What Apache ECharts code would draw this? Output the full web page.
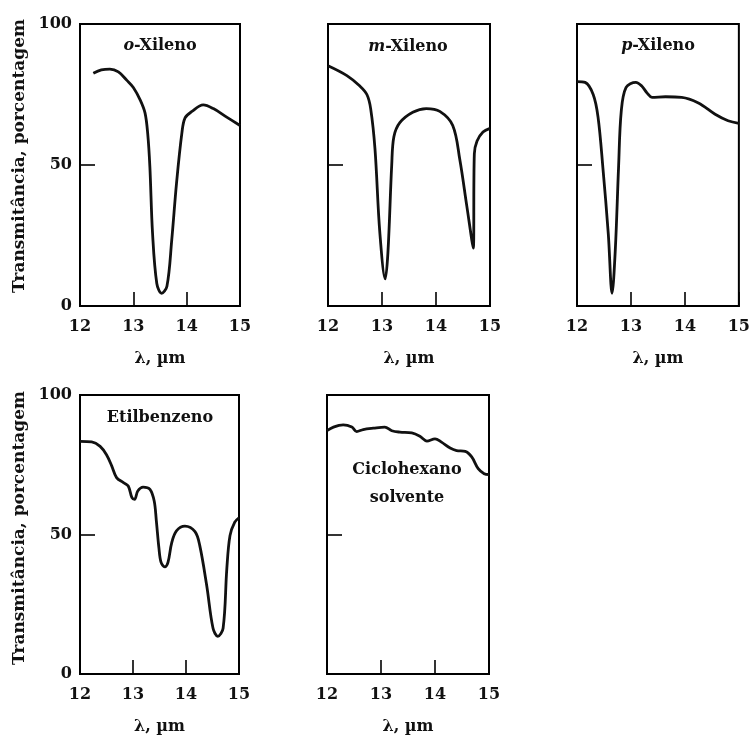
<!DOCTYPE html>
<html>
<head>
<meta charset="utf-8">
<title>Espectros IV – xilenos, etilbenzeno e ciclohexano</title>
<script src="https://cdn.jsdelivr.net/npm/echarts@6/dist/echarts.min.js"></script>
<style>
  html, body { margin: 0; padding: 0; background: #fff; }
  #chart { width: 753px; height: 736px; }
</style>
</head>
<body>
<div id="chart"></div>
<script>
// Wavelength (µm) and transmittance (%) samples for each spectrum
const oXyleneWl = [12.25, 12.4, 12.56, 12.72, 12.88, 13.0, 13.13, 13.22, 13.27, 13.31, 13.36, 13.44, 13.53, 13.63, 13.72, 13.81, 13.91, 13.97, 14.1, 14.31, 14.5, 14.75, 15.0];
const oXyleneT  = [82.5, 83.7, 84, 83, 80, 77.5, 73, 68.4, 61, 49.4, 25.9, 8, 4.5, 7, 23.4, 43.6, 61.3, 66.7, 69, 71.3, 70, 67, 64];

const mXyleneWl = [12.0, 12.35, 12.59, 12.72, 12.79, 12.87, 12.96, 13.06, 13.11, 13.18, 13.22, 13.33, 13.57, 13.82, 14.07, 14.31, 14.44, 14.57, 14.69, 14.71, 14.76, 14.87, 15.0];
const mXyleneT  = [85.2, 81.7, 78, 75, 70, 55.7, 26, 9.6, 19, 50, 60, 65, 68.7, 70, 69, 64, 52, 35.5, 20.5, 54, 58.5, 61.7, 63];

const pXyleneWl = [12.0, 12.15, 12.3, 12.39, 12.48, 12.58, 12.65, 12.71, 12.77, 12.82, 12.91, 13.09, 13.2, 13.3, 13.39, 13.64, 13.94, 14.25, 14.56, 14.8, 15.0];
const pXyleneT  = [79.6, 79.3, 75, 67, 49, 25.6, 4.5, 20, 49, 69, 77.5, 79.3, 78, 75.5, 74, 74.2, 74, 72, 68, 65.7, 64.8];

const ethylbenzWl = [12.0, 12.22, 12.38, 12.5, 12.6, 12.69, 12.82, 12.91, 12.98, 13.03, 13.09, 13.19, 13.32, 13.4, 13.44, 13.49, 13.53, 13.6, 13.66, 13.73, 13.82, 13.98, 14.17, 14.26, 14.39, 14.51, 14.6, 14.7, 14.77, 14.83, 14.92, 15.0];
const ethylbenzT  = [83.4, 83.2, 81.6, 78.6, 74.5, 70.4, 68.6, 67.4, 63.2, 62.6, 65.6, 67, 66.2, 62, 55, 45, 40, 38.4, 40, 47, 51.3, 53, 51, 46, 31.8, 16.4, 13.5, 16.4, 37.7, 49.6, 54.4, 56];

const cyclohexWl = [12.0, 12.12, 12.3, 12.46, 12.55, 12.67, 12.86, 13.07, 13.2, 13.35, 13.57, 13.72, 13.85, 14.0, 14.12, 14.28, 14.4, 14.56, 14.68, 14.8, 14.91, 15.0];
const cyclohexT  = [87.2, 88.5, 89.3, 88.5, 86.9, 87.6, 88.1, 88.5, 87.2, 86.7, 86.4, 85.2, 83.5, 84.3, 83.1, 81, 80.1, 79.8, 77.8, 73.6, 71.8, 71.5];

// Axis ranges and tick labels
const wlMin = 12, wlMax = 15, wlStep = 1;
const tMin = 0, tMax = 100, tStep = 50;
const xAxisTitle = 'λ, µm';
const yAxisTitle = 'Transmitância, porcentagem';

const FONT = 'DejaVu Serif';
const INK = '#111';
const FS = 16;

// Panel layout: plot box and caption placement
const panels = [
  { wl: oXyleneWl,   t: oXyleneT,   box: [80, 24, 160, 282],  yLabels: true,  caption: '{i|o}-Xileno', cap: [160, 46] },
  { wl: mXyleneWl,   t: mXyleneT,   box: [328, 24, 162, 282], yLabels: false, caption: '{i|m}-Xileno', cap: [408, 47] },
  { wl: pXyleneWl,   t: pXyleneT,   box: [577, 24, 163, 282], yLabels: false, caption: '{i|p}-Xileno', cap: [658, 46] },
  { wl: ethylbenzWl, t: ethylbenzT, box: [80, 395, 159, 281], yLabels: true,  caption: 'Etilbenzeno',  cap: [160, 418] },
  { wl: cyclohexWl,  t: cyclohexT,  box: [327, 395, 162, 281], yLabels: false, caption: 'Ciclohexano\nsolvente', cap: [407, 484] }
];

const zip = (xs, ys) => xs.map((x, k) => [x, ys[k]]);

const grids = [], xAxes = [], yAxes = [], series = [], graphics = [];

panels.forEach((p, i) => {
  const [left, top, width, height] = p.box;
  grids.push({
    left, top, width, height,
    show: true, borderColor: '#000', borderWidth: 2, backgroundColor: 'transparent'
  });
  xAxes.push({
    gridIndex: i, type: 'value', min: wlMin, max: wlMax, interval: wlStep,
    axisLine: { show: true, onZero: false, lineStyle: { color: '#000', width: 2 } },
    axisTick: { show: true, inside: true, length: 14, lineStyle: { color: '#000', width: 1.6 } },
    axisLabel: { show: true, margin: 13, fontFamily: FONT, fontSize: FS, fontWeight: 'bold', color: INK,
                 showMinLabel: true, showMaxLabel: true },
    splitLine: { show: false },
    name: xAxisTitle, nameLocation: 'middle', nameGap: 45,
    nameTextStyle: { fontFamily: FONT, fontSize: FS, fontWeight: 'bold', color: INK }
  });
  yAxes.push({
    gridIndex: i, type: 'value', min: tMin, max: tMax, interval: tStep,
    axisLine: { show: true, onZero: false, lineStyle: { color: '#000', width: 2 } },
    axisTick: { show: true, inside: true, length: 15, lineStyle: { color: '#000', width: 1.6 } },
    axisLabel: { show: p.yLabels, margin: 8, fontFamily: FONT, fontSize: FS, fontWeight: 'bold', color: INK },
    splitLine: { show: false }
  });
  series.push({
    type: 'line', xAxisIndex: i, yAxisIndex: i,
    data: zip(p.wl, p.t),
    showSymbol: false, smooth: 0.35, clip: true,
    lineStyle: { color: '#111', width: 2.8 },
    silent: true
  });
  graphics.push({
    type: 'text', x: p.cap[0], y: p.cap[1],
    style: {
      text: p.caption, align: 'center', verticalAlign: 'middle',
      font: 'bold ' + FS + 'px "' + FONT + '"', fill: INK, lineHeight: 28,
      rich: { i: { fontStyle: 'italic', fontWeight: 'bold', fontFamily: FONT, fontSize: FS, fill: INK } }
    }
  });
});

// Rotated transmittance titles for the two rows
[[20, 156], [20, 528]].forEach(([x, y]) => {
  graphics.push({
    type: 'text', x, y, rotation: Math.PI / 2,
    style: {
      text: yAxisTitle, align: 'center', verticalAlign: 'middle',
      font: 'bold 17px "' + FONT + '"', fill: INK
    }
  });
});

const chart = echarts.init(document.getElementById('chart'), null, { renderer: 'canvas' });
chart.setOption({
  backgroundColor: '#fff',
  animation: false,
  grid: grids,
  xAxis: xAxes,
  yAxis: yAxes,
  series,
  graphic: graphics
});
</script>
</body>
</html>
